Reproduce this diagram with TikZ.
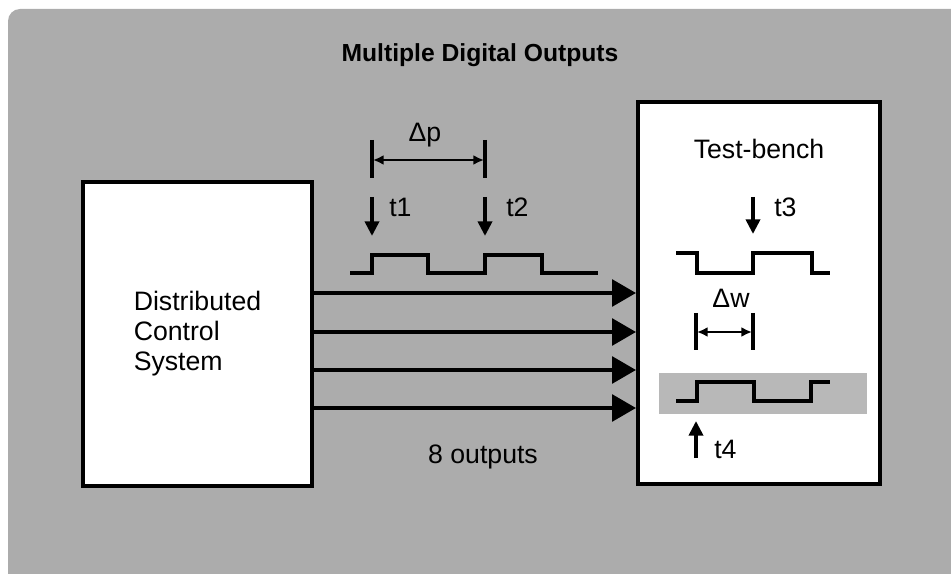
\documentclass[tikz,border=0pt]{standalone}
\usepackage{fontspec}
\setmainfont{Liberation Sans}
\usetikzlibrary{arrows.meta}
\definecolor{bgc}{RGB}{172,172,172}
\definecolor{bandc}{RGB}{184,184,184}
\begin{document}
\begin{tikzpicture}[x=0.75pt,y=-0.75pt,
  blockbox/.style={draw=black, line width=3pt, fill=white, inner sep=0pt},
  bus/.style={line width=3pt, -{Triangle[length=18pt,width=20pt]}},
  marker/.style={line width=2.8pt, -{Triangle[length=11pt,width=10.5pt]}},
  wave/.style={line width=2.8pt, line join=miter},
  dimbar/.style={line width=2.8pt},
  dimline/.style={line width=2.2pt, {Latex[length=8pt,width=7.5pt]}-{Latex[length=8pt,width=7.5pt]}},
  lbl/.style={font=\fontsize{20}{22.5}\selectfont, inner sep=0pt}
]
\useasboundingbox (0,0) rectangle (951,574);
\clip (0,0) rectangle (951,574);
% background
\fill[bgc, rounded corners=9pt] (8,9) rectangle (975,600);

% boxes
\node[blockbox, lbl, align=left, minimum width=171.75pt, minimum height=228pt] (dcs) at (197.5,334) {Distributed\\Control\\System};
\node[blockbox, minimum width=181.5pt, minimum height=286.5pt] (tb) at (759,293) {};

% title and labels
\node[lbl, font=\bfseries\fontsize{18.5}{22}\selectfont, anchor=base] (title) at (480,62) {Multiple Digital Outputs};
\node[lbl, anchor=base] (tblabel) at (759,159) {Test-bench};
\node[lbl, anchor=base] (outs) at (483,463) {8 outputs};

% shaded band inside test-bench
\fill[bandc] (659,373) rectangle (867,414);

% waveforms
\draw[wave] (350,273) -- (372,273) -- (372,255) -- (428,255) -- (428,273) -- (485,273) -- (485,255) -- (542,255) -- (542,273) -- (598,273);
\draw[wave] (676,253) -- (697,253) -- (697,273) -- (753,273) -- (753,253) -- (812,253) -- (812,273) -- (830,273);
\draw[wave] (676,401) -- (697,401) -- (697,382) -- (754,382) -- (754,401) -- (811,401) -- (811,382) -- (830,382);

% delta p dimension
\coordinate (p1t) at (372,140); \coordinate (p1b) at (372,178);
\coordinate (p2t) at (485,140); \coordinate (p2b) at (485,178);
\draw[dimbar] (p1t) -- (p1b);
\draw[dimbar] (p2t) -- (p2b);
\coordinate (pl) at (373,160); \coordinate (pr) at (484,160);
\draw[dimline] (pl) -- (pr);
\node[lbl, anchor=base] (dp) at (425,142) {Δp};

% delta w dimension
\coordinate (w1t) at (696,313); \coordinate (w1b) at (696,350);
\coordinate (w2t) at (753,313); \coordinate (w2b) at (753,350);
\draw[dimbar] (w1t) -- (w1b);
\draw[dimbar] (w2t) -- (w2b);
\coordinate (wl) at (697,332); \coordinate (wr) at (752,332);
\draw[dimline] (wl) -- (wr);
\node[lbl, anchor=base] (dw) at (731,308) {Δw};

% time markers
\coordinate (t1s) at (372,197); \coordinate (t1e) at (372,236);
\coordinate (t2s) at (485,197); \coordinate (t2e) at (485,236);
\coordinate (t3s) at (753,197); \coordinate (t3e) at (753,234);
\coordinate (t4s) at (696,458); \coordinate (t4e) at (696,421);
\draw[marker] (t1s) -- (t1e);
\draw[marker] (t2s) -- (t2e);
\draw[marker] (t3s) -- (t3e);
\draw[marker] (t4s) -- (t4e);
\node[lbl, anchor=base west] (t1) at (389,217) {t1};
\node[lbl, anchor=base west] (t2) at (506,217) {t2};
\node[lbl, anchor=base west] (t3) at (774,217) {t3};
\node[lbl, anchor=base west] (t4) at (714,458) {t4};

% bus arrows
\coordinate (r1) at (0,293);
\coordinate (r2) at (0,332);
\coordinate (r3) at (0,370);
\coordinate (r4) at (0,408);
\draw[bus] (dcs.east |- r1) -- (tb.west |- r1);
\draw[bus] (dcs.east |- r2) -- (tb.west |- r2);
\draw[bus] (dcs.east |- r3) -- (tb.west |- r3);
\draw[bus] (dcs.east |- r4) -- (tb.west |- r4);
\end{tikzpicture}
\end{document}
